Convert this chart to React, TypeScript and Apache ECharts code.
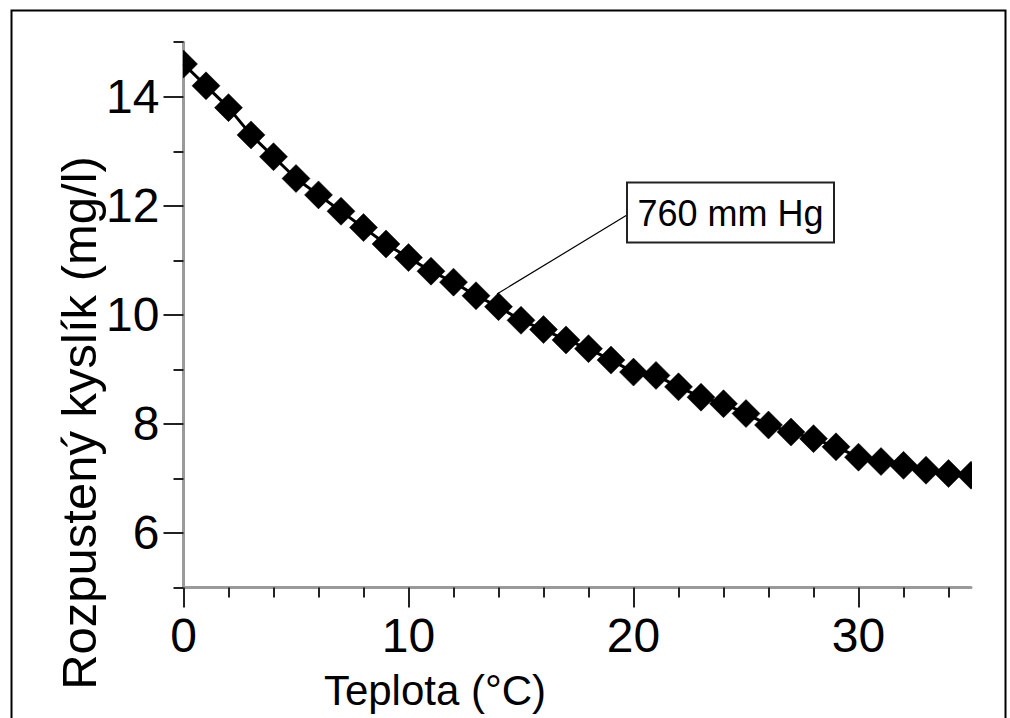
import React, { useEffect, useRef } from 'react';
import * as echarts from 'echarts';

const temperatures = [0, 1, 2, 3, 4, 5, 6, 7, 8, 9, 10, 11, 12, 13, 14, 15, 16, 17, 18, 19, 20, 21, 22, 23, 24, 25, 26, 27, 28, 29, 30, 31, 32, 33, 34, 35];
const oxygen = [14.6, 14.2, 13.8, 13.3, 12.9, 12.5, 12.2, 11.9, 11.6, 11.3, 11.05, 10.8, 10.6, 10.35, 10.15, 9.9, 9.73, 9.54, 9.38, 9.17, 8.95, 8.89, 8.68, 8.49, 8.37, 8.19, 7.98, 7.85, 7.73, 7.58, 7.39, 7.31, 7.24, 7.15, 7.09, 7.06];
const xMajorTicks = [0, 10, 20, 30];
const xMinorTicks = [2, 4, 6, 8, 12, 14, 16, 18, 22, 24, 26, 28, 32, 34];
const yMajorTicks = [6, 8, 10, 12, 14];
const yMinorTicks = [5, 7, 9, 11, 13, 15];
const xTitle = 'Teplota (°C)';
const yTitle = 'Rozpustený kyslík (mg/l)';
const annotationText = '760 mm Hg';

const FONT = '"Liberation Sans", Arial, sans-serif';

export default function App() {
  const ref = useRef<HTMLDivElement>(null);
  useEffect(() => {
    if (!ref.current) return;
    const chart = echarts.init(ref.current, null, { renderer: 'svg' });
    const points = temperatures.map((t, i) => [t, oxygen[i]]);
    const gridBox = { left: 183.5, top: 42.2, width: 787.5, height: 545.3 };
    const axisLineStyle = { color: '#9a9a9a', width: 3 };
    const tickStyle = { color: '#222', width: 2 };
    const option: any = {
      animation: false,
      backgroundColor: '#fff',
      grid: [
        { ...gridBox, containLabel: false },
        { ...gridBox, containLabel: false },
      ],
      xAxis: [
        {
          type: 'value', gridIndex: 0, min: 0, max: 35, position: 'bottom',
          axisLine: { show: true, onZero: false, lineStyle: axisLineStyle },
          axisTick: { show: true, customValues: xMajorTicks, length: 20, inside: false, lineStyle: tickStyle },
          axisLabel: { show: true, customValues: xMajorTicks, fontSize: 48, fontFamily: FONT, color: '#000', margin: 24 },
          splitLine: { show: false },
        },
        {
          type: 'value', gridIndex: 1, min: 0, max: 35, position: 'bottom',
          axisLine: { show: false, onZero: false },
          axisTick: { show: true, customValues: xMinorTicks, length: 10, inside: false, lineStyle: tickStyle },
          axisLabel: { show: false },
          splitLine: { show: false },
        },
      ],
      yAxis: [
        {
          type: 'value', gridIndex: 0, min: 5, max: 15, position: 'left',
          axisLine: { show: true, onZero: false, lineStyle: axisLineStyle },
          axisTick: { show: true, customValues: yMajorTicks, length: 20, inside: false, lineStyle: tickStyle },
          axisLabel: { show: true, customValues: yMajorTicks, fontSize: 48, fontFamily: FONT, color: '#000', margin: 24 },
          splitLine: { show: false },
        },
        {
          type: 'value', gridIndex: 1, min: 5, max: 15, position: 'left',
          axisLine: { show: false, onZero: false },
          axisTick: { show: true, customValues: yMinorTicks, length: 10, inside: false, lineStyle: tickStyle },
          axisLabel: { show: false },
          splitLine: { show: false },
        },
      ],
      series: [
        {
          type: 'line', xAxisIndex: 0, yAxisIndex: 0, data: points,
          showSymbol: false, clip: true,
          lineStyle: { color: '#000', width: 3 },
          z: 3,
        },
        {
          type: 'custom', xAxisIndex: 0, yAxisIndex: 0, data: points, clip: true,
          renderItem: (params: any, api: any) => {
            const p = api.coord([api.value(0), api.value(1)]);
            const s = 14;
            return {
              type: 'polygon',
              shape: { points: [[p[0], p[1] - s], [p[0] + s, p[1]], [p[0], p[1] + s], [p[0] - s, p[1]]] },
              style: { fill: '#000', stroke: '#000', lineWidth: 0.5 },
            };
          },
          z: 4,
        },
      ],
      graphic: [
        {
          type: 'rect', left: 9, top: 8, z: 100, silent: true,
          shape: { x: 0, y: 0, width: 994, height: 730 },
          style: { fill: 'none', stroke: '#000', lineWidth: 2 },
        },
        {
          type: 'line', z: 50,
          shape: { x1: 627, y1: 215, x2: 497, y2: 294 },
          style: { stroke: '#000', lineWidth: 1.2 },
        },
        {
          type: 'rect', z: 60,
          shape: { x: 627, y: 182.5, width: 207, height: 60 },
          style: { fill: '#fff', stroke: '#222', lineWidth: 2 },
        },
        {
          type: 'text', z: 61, x: 730.5, y: 213,
          style: { text: annotationText, fontSize: 36, fontFamily: FONT, fill: '#000', align: 'center', verticalAlign: 'middle' },
        },
        {
          type: 'text', z: 61, x: 435, y: 690,
          style: { text: xTitle, fontSize: 42, fontFamily: FONT, fill: '#000', align: 'center', verticalAlign: 'middle' },
        },
        {
          type: 'text', z: 61, x: 79, y: 423, rotation: Math.PI / 2,
          style: { text: yTitle, fontSize: 49, fontFamily: FONT, fill: '#000', align: 'center', verticalAlign: 'middle' },
        },
      ],
    };
    chart.setOption(option);
    return () => chart.dispose();
  }, []);
  return <div ref={ref} style={{ position: 'absolute', left: 0, top: 0, width: 1010, height: 718 }} />;
}
